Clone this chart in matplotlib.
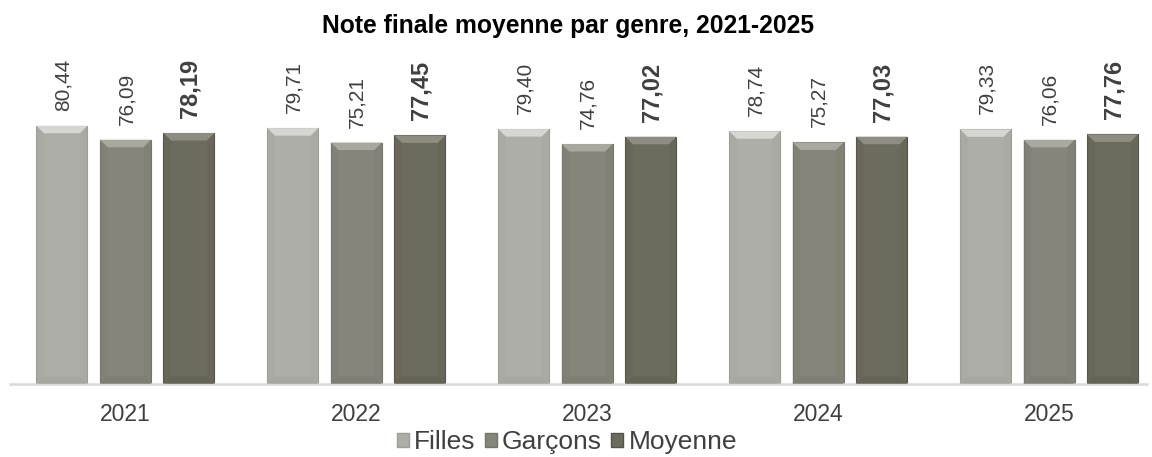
import matplotlib
matplotlib.use("Agg")
import matplotlib.pyplot as plt
from matplotlib.patches import Polygon, Patch
import numpy as np

plt.rcParams['font.family'] = ['Liberation Sans', 'DejaVu Sans']

years = ["2021", "2022", "2023", "2024", "2025"]
series_names = ["Filles", "Garçons", "Moyenne"]
filles = [80.44, 79.71, 79.40, 78.74, 79.33]
garcons = [76.09, 75.21, 74.76, 75.27, 76.06]
moyenne = [78.19, 77.45, 77.02, 77.03, 77.76]
values = [filles, garcons, moyenne]

face_colors = ["#ADAEA7", "#868579", "#6C6B5D"]
top_colors = ["#D6D7D2", "#A9A89E", "#8E8D81"]
side_colors = ["#A4A59E", "#7D7C70", "#626154"]
edge_colors = ["#9C9D96", "#75746A", "#545347"]

W, H = 1152, 457
fig = plt.figure(figsize=(W / 100, H / 100), dpi=100)
ax_left, ax_right = 10 / W, 1147 / W
ax_bottom, ax_top = (H - 384) / H, (H - 63) / H
ax = fig.add_axes([ax_left, ax_bottom, ax_right - ax_left, ax_top - ax_bottom])

group_px = 230.9
xlim = (-0.5, -0.5 + (1147 - 10) / group_px)
ax.set_xlim(*xlim)
ax.set_ylim(0, 100)

offsets = [-0.275, 0.0, 0.275]
width = 0.221
x = np.arange(len(years))

# pixel -> data conversion for the bevel
dx = 7.5 / group_px
dy = 7.5 * 100 / 321

for si, (vals, off) in enumerate(zip(values, offsets)):
    bars = ax.bar(x + off, vals, width, color=face_colors[si],
                  edgecolor=edge_colors[si], linewidth=0.8, zorder=2)
    for b, v in zip(bars, vals):
        x0 = b.get_x()
        x1 = x0 + b.get_width()
        top = b.get_height()
        ax.add_patch(Polygon([(x0, top), (x1, top), (x1 - dx, top - dy), (x0 + dx, top - dy)],
                             closed=True, facecolor=top_colors[si], edgecolor='none', zorder=3))
        ax.add_patch(Polygon([(x0, top), (x0 + dx, top - dy), (x0 + dx, dy), (x0, 0)],
                             closed=True, facecolor=side_colors[si], edgecolor='none', zorder=3, alpha=0.4))
        ax.add_patch(Polygon([(x1, top), (x1 - dx, top - dy), (x1 - dx, dy), (x1, 0)],
                             closed=True, facecolor=side_colors[si], edgecolor='none', zorder=3, alpha=0.4))
        ax.add_patch(Polygon([(x0, 0), (x0 + dx, dy), (x1 - dx, dy), (x1, 0)],
                             closed=True, facecolor=side_colors[si], edgecolor='none', zorder=3, alpha=0.7))
        label = f"{v:.2f}".replace(".", ",")
        bold = si == 2
        ax.annotate(label, xy=(b.get_x() + b.get_width() / 2, top), xytext=(1, 15),
                    textcoords="offset pixels", rotation=90, ha="center", va="bottom",
                    fontsize=17 if bold else 15, color="#404040",
                    fontweight="bold" if bold else "normal", annotation_clip=False)

for sp in ["top", "right", "left"]:
    ax.spines[sp].set_visible(False)
ax.spines["bottom"].set_color("#D9D9D9")
ax.spines["bottom"].set_linewidth(1.8)
ax.set_yticks([])
ax.set_xticks(x)
ax.set_xticklabels(years, fontsize=16.5, color="#404040")
ax.tick_params(axis="x", length=0, pad=13.5)

fig.text(568 / W, 1 - 26 / H, "Note finale moyenne par genre, 2021-2025", ha="center", va="center",
         fontsize=17.7, fontweight="bold", color="#000000")

handles = [Patch(facecolor=face_colors[i], edgecolor=edge_colors[i], label=series_names[i]) for i in range(3)]
fig.legend(handles=handles, loc="center", bbox_to_anchor=(567 / W, 1 - 442 / H), ncol=3, frameon=False,
           fontsize=19, handlelength=0.45, handleheight=0.45, handletextpad=0.2, columnspacing=0.35,
           labelcolor="#404040", borderpad=0)

fig.savefig("out.png", dpi=100)
